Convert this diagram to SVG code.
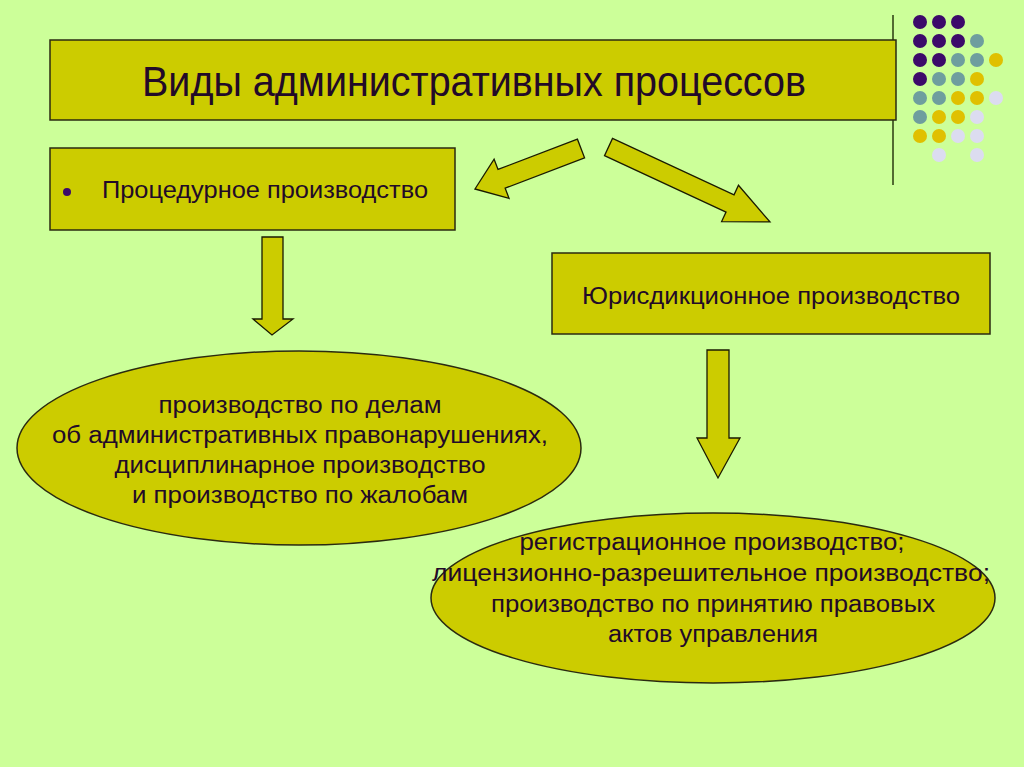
<svg xmlns="http://www.w3.org/2000/svg" width="1024" height="767" viewBox="0 0 1024 767">
<style>
.box{fill:#cccc00;stroke:#2a2a10;stroke-width:1.5}
.arr{fill:#cccc00;stroke:#1a1a00;stroke-width:1.3;stroke-linejoin:miter}
.t{font-family:"Liberation Sans",Arial,sans-serif;fill:#220a28;text-anchor:middle}
.p{fill:#3c0a6a}.g{fill:#6e9e9e}.y{fill:#e0c000}.l{fill:#dcdcf0}
</style>
<rect width="1024" height="767" fill="#ccff99"/>
<g id="decor">
<line x1="893" y1="15" x2="893" y2="185" stroke="#2a3a10" stroke-width="1.5"/>
<g>
<circle class="p" cx="920" cy="22" r="7"/><circle class="p" cx="939" cy="22" r="7"/><circle class="p" cx="958" cy="22" r="7"/>
<circle class="p" cx="920" cy="41" r="7"/><circle class="p" cx="939" cy="41" r="7"/><circle class="p" cx="958" cy="41" r="7"/><circle class="g" cx="977" cy="41" r="7"/>
<circle class="p" cx="920" cy="60" r="7"/><circle class="p" cx="939" cy="60" r="7"/><circle class="g" cx="958" cy="60" r="7"/><circle class="g" cx="977" cy="60" r="7"/><circle class="y" cx="996" cy="60" r="7"/>
<circle class="p" cx="920" cy="79" r="7"/><circle class="g" cx="939" cy="79" r="7"/><circle class="g" cx="958" cy="79" r="7"/><circle class="y" cx="977" cy="79" r="7"/>
<circle class="g" cx="920" cy="98" r="7"/><circle class="g" cx="939" cy="98" r="7"/><circle class="y" cx="958" cy="98" r="7"/><circle class="y" cx="977" cy="98" r="7"/><circle class="l" cx="996" cy="98" r="7"/>
<circle class="g" cx="920" cy="117" r="7"/><circle class="y" cx="939" cy="117" r="7"/><circle class="y" cx="958" cy="117" r="7"/><circle class="l" cx="977" cy="117" r="7"/>
<circle class="y" cx="920" cy="136" r="7"/><circle class="y" cx="939" cy="136" r="7"/><circle class="l" cx="958" cy="136" r="7"/><circle class="l" cx="977" cy="136" r="7"/>
<circle class="l" cx="939" cy="155" r="7"/><circle class="l" cx="977" cy="155" r="7"/>
</g>
</g>
<g id="title">
<rect class="box" x="50" y="40" width="846" height="80"/>
<text class="t" x="474" y="96" font-size="42" textLength="664" lengthAdjust="spacingAndGlyphs">Виды административных процессов</text>
</g>
<g id="procedural">
<rect class="box" x="50" y="148" width="405" height="82"/>
<circle cx="67" cy="192" r="4" fill="#3c0a6a"/>
<text class="t" x="265" y="198" font-size="23" textLength="326" lengthAdjust="spacingAndGlyphs">Процедурное производство</text>
</g>
<g id="jurisdictional">
<rect class="box" x="552" y="253" width="438" height="81"/>
<text class="t" x="771" y="304" font-size="23" textLength="378" lengthAdjust="spacingAndGlyphs">Юрисдикционное производство</text>
</g>
<g id="proc-types">
<ellipse class="box" cx="299" cy="448" rx="282" ry="97"/>
<text class="t" font-size="23"><tspan x="300" y="413" textLength="283" lengthAdjust="spacingAndGlyphs">производство по делам</tspan></text>
<text class="t" font-size="23"><tspan x="300" y="443" textLength="496" lengthAdjust="spacingAndGlyphs">об административных правонарушениях,</tspan></text>
<text class="t" font-size="23"><tspan x="300" y="473" textLength="371" lengthAdjust="spacingAndGlyphs">дисциплинарное производство</tspan></text>
<text class="t" font-size="23"><tspan x="300" y="503" textLength="336" lengthAdjust="spacingAndGlyphs">и производство по жалобам</tspan></text>
</g>
<g id="jur-types">
<ellipse class="box" cx="713" cy="598" rx="282" ry="85"/>
<text class="t" font-size="23"><tspan x="712" y="550" textLength="385" lengthAdjust="spacingAndGlyphs">регистрационное производство;</tspan></text>
<text class="t" font-size="23"><tspan x="711" y="581" textLength="558" lengthAdjust="spacingAndGlyphs">лицензионно-разрешительное производство;</tspan></text>
<text class="t" font-size="23"><tspan x="713" y="612" textLength="444" lengthAdjust="spacingAndGlyphs">производство по принятию правовых</tspan></text>
<text class="t" font-size="23"><tspan x="713" y="642" textLength="210" lengthAdjust="spacingAndGlyphs">актов управления</tspan></text>
</g>
<g id="connectors">
<polygon class="arr" transform="translate(581,148.5) rotate(159.1)" points="0,-10 85,-10 85,-21 113.5,0 85,21 85,10 0,10"/>
<polygon class="arr" transform="translate(608.5,147) rotate(24.9)" points="0,-9.5 134,-9.5 134,-20 178,0 134,20 134,9.5 0,9.5"/>
<polygon class="arr" points="262,237 283,237 283,319 293,319 272,335 253,319 262,319"/>
<polygon class="arr" points="707,350 729,350 729,438 740,438 718,478 697,438 707,438"/>
</g>
</svg>
